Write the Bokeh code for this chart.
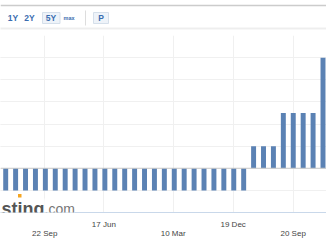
from bokeh.plotting import figure
from bokeh.models import Range1d, FixedTicker, SingleIntervalTicker, Span, Label, Grid, BoxAnnotation
from bokeh.layouts import column
from bokeh.embed import file_html
from bokeh.resources import INLINE
from bokeh.core.properties import value

# ---- data (policy rate per meeting, %) ----
rates = [-0.1, -0.1, -0.1, -0.1, -0.1, -0.1, -0.1, -0.1, -0.1, -0.1,
         -0.1, -0.1, -0.1, -0.1, -0.1, -0.1, -0.1, -0.1, -0.1, -0.1,
         -0.1, -0.1, -0.1, -0.1, -0.1,
         0.1, 0.1, 0.1,
         0.25, 0.25, 0.25, 0.25,
         0.5]
meeting_index = list(range(len(rates)))
tick_positions = [3.94, 9.9, 16.89, 22.94, 28.99]
tick_labels = ["22 Sep", "17 Jun", "10 Mar", "19 Dec", "20 Sep"]
tick_row = [1, 0, 1, 0, 1]   # 0 = upper row, 1 = lower row
range_buttons = ["1Y", "2Y", "5Y"]

FONT = "Liberation Sans"
BLUE = "#3b6db0"
GRID = "#f0f0f0"

# ---- top strip with range buttons ----
top = figure(width=326, height=35, x_range=Range1d(0, 326), y_range=Range1d(35, 0),
             toolbar_location=None, output_backend="svg", min_border=0,
             x_axis_location=None, y_axis_location=None, outline_line_color=None)
top.grid.visible = False
top.line([0, 326], [5, 5], line_color="#cccccc", line_width=1.3)
top.line([0, 326], [28, 28], line_color="#dddddd", line_width=2, line_dash="1 1")
top.quad(left=[42, 93], right=[59.5, 108], top=[12, 12], bottom=[23, 23],
         fill_color="#eef3f9", line_color="#d5dfea", line_width=1)
top.line([85, 85], [10, 25], line_color="#dddddd", line_width=1)
top.text(x=[12.5, 29, 50.5], y=[17.5, 17.5, 17.5], text=range_buttons,
         text_font=value(FONT), text_font_style="bold", text_font_size="8.5px",
         text_color=BLUE, text_align="center", text_baseline="middle")
top.text(x=[68.5], y=[17.8], text=["max"], text_font=value(FONT), text_font_style="bold",
         text_font_size="5.5px", text_color=BLUE, text_align="center", text_baseline="middle")
top.text(x=[100.5], y=[17.5], text=["P"], text_font=value(FONT), text_font_style="bold",
         text_font_size="8.5px", text_color=BLUE, text_align="center", text_baseline="middle")

# ---- main chart ----
p = figure(width=326, height=210, x_range=Range1d(-0.5244, 32.353), y_range=Range1d(-0.2, 0.6),
           toolbar_location=None, output_backend="svg",
           min_border_left=0, min_border_right=0, min_border_top=0, min_border_bottom=33,
           y_axis_location=None, outline_line_color=None)

p.xgrid.ticker = FixedTicker(ticks=tick_positions)
p.xgrid.grid_line_color = GRID
p.add_layout(Grid(dimension=1, ticker=SingleIntervalTicker(interval=0.1),
                  grid_line_color=GRID))
p.add_layout(Span(location=0, dimension="width", line_color="#c8c8c8", line_width=1))

p.vbar(x=meeting_index, top=rates, bottom=0, width=0.5,
       fill_color="#5b82b4", line_color=None)

ax = p.xaxis[0]
ax.ticker = FixedTicker(ticks=tick_positions)
ax.major_label_overrides = {t: (lab if r == 0 else "\n" + lab)
                            for t, lab, r in zip(tick_positions, tick_labels, tick_row)}
ax.axis_line_color = "#c9d8ea"
ax.axis_line_width = 1
ax.major_tick_line_color = None
ax.minor_tick_line_color = None
ax.major_tick_out = 0
ax.major_tick_in = 0
ax.major_label_standoff = 7
ax.major_label_text_font = FONT
ax.major_label_text_font_size = "8px"
ax.major_label_text_color = "#444444"
ax.major_label_text_line_height = 1.1

# watermark
p.add_layout(Label(x=44, y=4, x_units="screen", y_units="screen", text="sting",
                   text_font=FONT, text_font_style="bold", text_font_size="18px",
                   text_color="#555555", text_align="right", text_baseline="alphabetic",
                   background_fill_color="white"))
p.add_layout(Label(x=44, y=4, x_units="screen", y_units="screen", text=".com",
                   text_font=FONT, text_font_size="14px",
                   text_color="#777777", text_align="left", text_baseline="alphabetic",
                   background_fill_color="white"))
p.add_layout(BoxAnnotation(left=17.5, right=21, bottom=15, top=18.5,
                           left_units="screen", right_units="screen",
                           bottom_units="screen", top_units="screen",
                           fill_color="#f5a623", fill_alpha=1, line_color=None))

layout = column(top, p, spacing=0)
open("out.html", "w").write(file_html(layout, INLINE))
